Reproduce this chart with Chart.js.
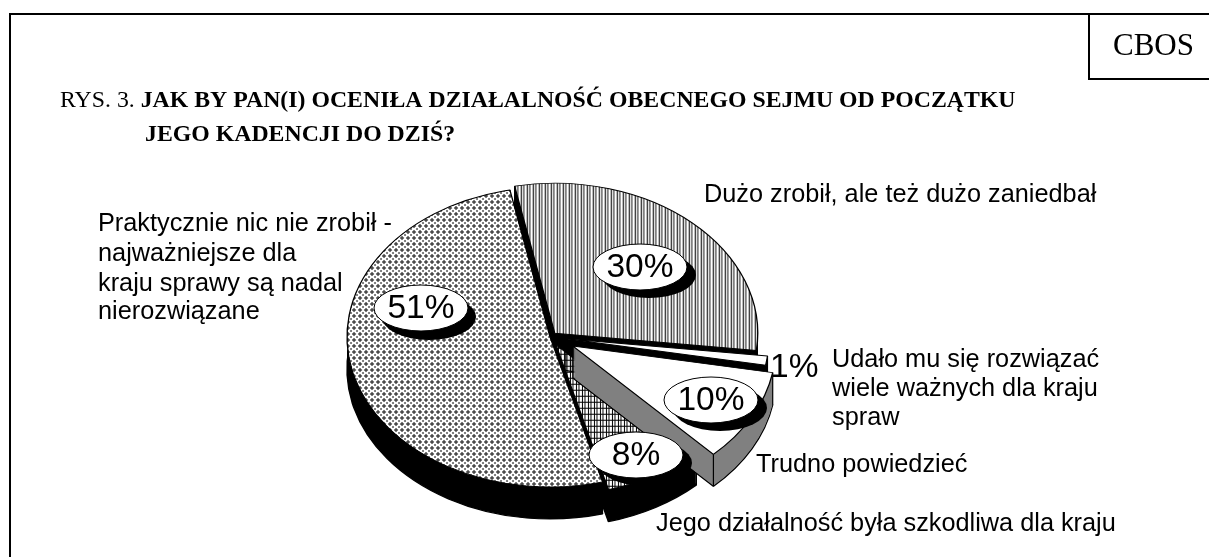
<!DOCTYPE html>
<html lang="pl"><head><meta charset="utf-8">
<style>html,body{margin:0;padding:0;background:#fff}canvas{display:block}</style>
<script src="https://cdn.jsdelivr.net/npm/chart.js@4"></script>
</head><body><canvas id="c" width="1209" height="557"></canvas>
<script>
const categories = ["Dużo zrobił, ale też dużo zaniedbał","Udało mu się rozwiązać wiele ważnych dla kraju spraw","Trudno powiedzieć","Jego działalność była szkodliwa dla kraju","Praktycznie nic nie zrobił - najważniejsze dla kraju sprawy są nadal nierozwiązane"];
const values = [30,1,10,8,51];
const titlePrefix = "RYS. 3. ";
const titleLine1 = "JAK BY PAN(I) OCENIŁA DZIAŁALNOŚĆ OBECNEGO SEJMU OD POCZĄTKU";
const titleLine2 = "JEGO KADENCJI DO DZIŚ?";
const sourceLabel = "CBOS";

// layout and style (separate from the data)
const RX = 203, RY = 150, SY = RY / RX, DEPTH = 32;
const explode = [7,16,26,12,0];
const wallColors = ["#000","#000","#808080","#000","#000"];
const paintOrder = [0,3,4,1,2];
const labelLines = [
  [{t:"Dużo zrobił, ale też dużo zaniedbał",x:704,y:202}],
  [{t:"Udało mu się rozwiązać",x:832,y:367},{t:"wiele ważnych dla kraju",x:832,y:396},{t:"spraw",x:832,y:425}],
  [{t:"Trudno powiedzieć",x:756,y:472}],
  [{t:"Jego działalność była szkodliwa dla kraju",x:656,y:531}],
  [{t:"Praktycznie nic nie zrobił -",x:98,y:231},{t:"najważniejsze dla",x:98,y:261},{t:"kraju sprawy są nadal",x:98,y:291},{t:"nierozwiązane",x:98,y:319}]
];
const bubbles = [{x:640,y:267,sx:9,sy:8},null,{x:711,y:400,sx:9,sy:8},{x:636,y:455,sx:9,sy:8},{x:421,y:308,sx:8,sy:9}];

function makePattern(rows){
  const map={k:"#000",d:"#4a4a4a",g:"#808080",w:"#fff"};
  const c=document.createElement("canvas");c.width=rows[0].length;c.height=rows.length;
  const x=c.getContext("2d");
  rows.forEach((r,j)=>[...r].forEach((ch,i)=>{x.fillStyle=map[ch];x.fillRect(i,j,1,1);}));
  const p=x.createPattern(c,"repeat");
  p.setTransform(new DOMMatrix().scale(1,1/SY));
  return p;
}
const stripes=makePattern(["kwggww"]);
const grid=makePattern(["kkkkkk","kwggww","kwggww","kwggww","kwggww","kwggww"]);
const lattice=makePattern(["dgwwgd","gwwwwg","wwggww","wwggww","gwwwwg","dgwwgd"]);
const fills=[stripes,"#fff","#fff",grid,lattice];

function withOpts(arc,o,fn){const s=arc.options;arc.options=Object.assign(Object.create(s),o);fn();arc.options=s;}

const pie3d={id:"pie3d",
  beforeDatasetDraw(chart,args){
    const ctx=chart.ctx,arcs=args.meta.data;
    const cy=arcs[0].y;
    paintOrder.forEach(i=>{
      const a=arcs[i],mid=(a.startAngle+a.endAngle)/2;
      ctx.save();
      ctx.translate(0,cy);ctx.scale(1,SY);ctx.translate(0,-cy);
      ctx.translate(Math.cos(mid)*explode[i],Math.sin(mid)*explode[i]);
      const dy=DEPTH/SY;
      ctx.save();ctx.translate(0,dy);
      withOpts(a,{backgroundColor:wallColors[i],borderColor:"#000",borderWidth:1.5},()=>a.draw(ctx));
      ctx.restore();
      for(let k=DEPTH-1;k>=1;k--){
        ctx.save();ctx.translate(0,k/SY);
        withOpts(a,{backgroundColor:wallColors[i],borderColor:wallColors[i],borderWidth:0},()=>a.draw(ctx));
        ctx.restore();
      }
      ctx.beginPath();ctx.lineWidth=1.2;ctx.strokeStyle="#000";
      [a.startAngle,a.endAngle].forEach(t=>{
        const px=a.x+Math.cos(t)*a.outerRadius,py=a.y+Math.sin(t)*a.outerRadius;
        ctx.moveTo(px,py);ctx.lineTo(px,py+dy);
      });
      ctx.moveTo(a.x,a.y);ctx.lineTo(a.x,a.y+dy);
      ctx.stroke();
      a.draw(ctx);
      ctx.restore();
    });
    return false;
  },
  afterDatasetsDraw(chart){
    const ctx=chart.ctx;
    ctx.save();
    ctx.strokeStyle="#000";ctx.lineWidth=2;ctx.beginPath();
    ctx.moveTo(10,557);ctx.lineTo(10,14);ctx.lineTo(1209,14);
    ctx.moveTo(1089,14);ctx.lineTo(1089,79);ctx.lineTo(1209,79);ctx.stroke();
    ctx.fillStyle="#000";ctx.textBaseline="alphabetic";ctx.textAlign="left";
    ctx.font='31px "Liberation Serif"';ctx.fillText(sourceLabel,1113,55);
    ctx.font='23.8px "Liberation Serif"';ctx.fillText(titlePrefix,60,107);
    const w=ctx.measureText(titlePrefix).width;
    ctx.font='bold 23.8px "Liberation Serif"';ctx.fillText(titleLine1,60+w,107);
    ctx.fillText(titleLine2,145,141);
    ctx.font='25.3px "Liberation Sans"';
    labelLines.forEach(ls=>ls.forEach(l=>ctx.fillText(l.t,l.x,l.y)));
    ctx.font='33.5px "Liberation Sans"';
    values.forEach((v,i)=>{
      const b=bubbles[i];
      if(!b)return;
      ctx.beginPath();ctx.ellipse(b.x+b.sx,b.y+b.sy,47,23,0,0,Math.PI*2);ctx.fillStyle="#000";ctx.fill();
      ctx.beginPath();ctx.ellipse(b.x,b.y,47,23,0,0,Math.PI*2);ctx.fillStyle="#fff";ctx.fill();
      ctx.lineWidth=1;ctx.strokeStyle="#000";ctx.stroke();
      ctx.fillStyle="#000";ctx.textAlign="center";ctx.textBaseline="middle";
      ctx.fillText(v+"%",b.x,b.y+1);
    });
    ctx.textAlign="left";ctx.textBaseline="alphabetic";
    ctx.fillText(values[1]+"%",770,377);
    ctx.restore();
  }
};

new Chart(document.getElementById("c"),{
  type:"pie",
  data:{labels:categories,datasets:[{data:values,backgroundColor:fills,borderColor:"#000",borderWidth:1.3}]},
  options:{responsive:false,animation:false,rotation:-11.4,radius:RX,
    layout:{padding:{top:117,right:109,bottom:0,left:0}},
    plugins:{legend:{display:false},tooltip:{enabled:false},title:{display:false}},
    events:[]},
  plugins:[pie3d]
});
</script></body></html>
